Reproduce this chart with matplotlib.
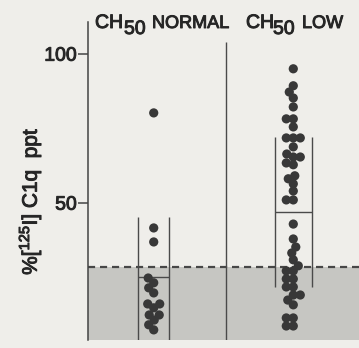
import numpy as np
import matplotlib
matplotlib.use('Agg')
import matplotlib.pyplot as plt
import matplotlib.patheffects as pe

plt.rcParams['font.family'] = ['Liberation Sans', 'DejaVu Sans']
plt.rcParams['mathtext.fontset'] = 'custom'
plt.rcParams['mathtext.rm'] = 'Liberation Sans'
plt.rcParams['mathtext.it'] = 'Liberation Sans:italic'

# % [125I] C1q precipitated, per patient
normal = [80.3, 41.7, 37.0, 24.9, 23.3, 21.6, 19.9, 16.2, 16.2, 14.9,
          12.5, 12.5, 10.8, 9.2, 7.5]
low = [95.1, 89.4, 87.3, 85.3, 82.3, 78.3, 78.3, 75.6, 71.9, 71.9, 71.9,
       68.9, 66.5, 65.5, 65.5, 63.5, 62.9, 59.2, 58.2, 56.5, 54.1, 51.1, 51.1,
       43.0, 38.0, 35.3, 33.3, 31.0, 29.0, 27.3, 27.3, 24.6, 24.6, 21.9, 21.9,
       19.2, 19.2, 17.5, 15.9, 11.5, 11.5, 8.8, 8.8]

# range bars (low end, middle, high end)
normal_bar = (0.0, 25.3, 45.4)
low_bar = (21.9, 47.1, 72.2)
cutoff = 28.6

BG = '#efeeea'
INK = '#383838'
TXT = '#262626'
thick = [pe.withStroke(linewidth=0.7, foreground=TXT)]

fig = plt.figure(figsize=(3.59, 3.48), dpi=100, facecolor=BG)
ax = fig.add_axes([88 / 359, 8 / 348, 271 / 359, 318 / 348], facecolor=BG)
ybot, ytop = 4.1, 110.8
ax.set_xlim(0, 4)
ax.set_ylim(ybot, ytop)

for s in ['top', 'right', 'bottom']:
    ax.spines[s].set_visible(False)
ax.spines['left'].set_color('#444444')
ax.spines['left'].set_linewidth(1.1)
ax.set_xticks([])
ax.set_yticks([50, 100])
ax.set_yticklabels(['50', '100'], fontsize=14, color=TXT)
for t in ax.get_yticklabels():
    t.set_path_effects(thick)
ax.tick_params(axis='y', length=7, width=1.1, color='#444444', pad=1)

# shaded normal zone and cutoff
ax.axhspan(ybot, cutoff, color='#c6c6c2', zorder=0, lw=0)
ax.axhline(cutoff, ls=(0, (3.2, 2.2)), lw=1.6, color='#474747', zorder=1)

# divider between groups
ax.vlines(2.03, ybot, 104, color='#4a4a4a', lw=1.0)

# per-pixel scale for the swarm layout
ppx = ax.bbox.width / 4.0
ppy = ax.bbox.height / (ytop - ybot)


def swarm(values, diam=7.0):
    ys = np.asarray(values) * ppy
    offs = np.zeros(len(ys))
    placed = []
    cands = sorted(np.arange(-40, 40.25, 0.5), key=abs)
    for i in np.argsort(ys):
        for c in cands:
            if all((c - px) ** 2 + (ys[i] - py) ** 2 >= diam ** 2 for px, py in placed):
                break
        offs[i] = c
        placed.append((c, ys[i]))
    return offs / ppx


for xc, vals, bar, half in [(0.97, normal, normal_bar, 0.23), (3.03, low, low_bar, 0.275)]:
    lo, mid, hi = bar
    ax.vlines([xc - half, xc + half], max(lo, ybot), hi, color='#4a4a4a', lw=1.0, zorder=2)
    ax.hlines(mid, xc - half, xc + half, color='#4a4a4a', lw=1.0, zorder=2)
    xs = xc + swarm(vals)
    ax.scatter(xs, vals, s=44, color=INK, edgecolors='none', zorder=3)

# headers
def ftext(x, y, s, size):
    fig.text(x / 359, 1 - y / 348, s, fontsize=size, color=TXT, va='baseline', ha='left',
             path_effects=thick)

ftext(95, 28, 'CH', 14)
ftext(124, 34, '50', 14)
ftext(152, 28, 'NORMAL', 13)
ftext(246, 28, 'CH', 14)
ftext(273, 34, '50', 14)
ftext(302, 28, 'LOW', 13)

fig.text(30 / 359, 1 - 201 / 348, r'%[$^{125}$I] C1q  ppt', rotation=90,
         fontsize=15, color=TXT, ha='center', va='center', path_effects=thick)

fig.savefig('out.png', dpi=100, facecolor=BG)
